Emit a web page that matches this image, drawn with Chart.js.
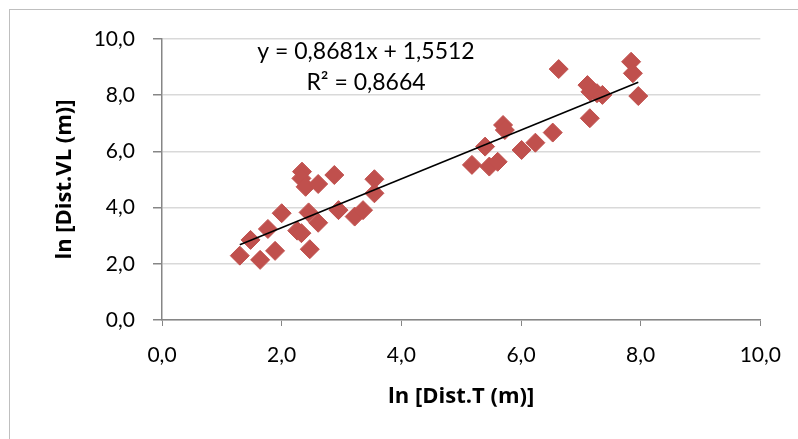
<!DOCTYPE html>
<html>
<head>
<meta charset="utf-8">
<script src="https://cdn.jsdelivr.net/npm/chart.js@4/dist/chart.umd.min.js"></script>
<style>
  html, body { margin: 0; padding: 0; background: #fff; }
  #wrap { width: 798px; height: 439px; position: relative; }
</style>
</head>
<body>
<div id="wrap"><canvas id="myChart" width="798" height="439"></canvas></div>
<script>
// values: ln distance T (x) vs ln distance VL (y)
const distT = [
  1.30, 1.48, 1.64, 1.77, 1.89, 2.00, 2.26, 2.33, 2.34, 2.33, 2.40,
  2.45, 2.47, 2.61, 2.61, 2.88, 2.95, 3.22, 3.36, 3.55, 3.55,
  5.18, 5.40, 5.47, 5.61, 5.70, 5.73, 6.01, 6.24, 6.53, 6.63,
  7.11, 7.16, 7.27, 7.36, 7.15, 7.84, 7.87, 7.96
];
const distVL = [
  2.29, 2.85, 2.14, 3.24, 2.46, 3.80, 3.18, 3.09, 5.28, 5.04, 4.74,
  3.83, 2.52, 3.46, 4.84, 5.16, 3.91, 3.68, 3.91, 5.01, 4.51,
  5.52, 6.17, 5.46, 5.63, 6.94, 6.76, 6.05, 6.31, 6.67, 8.93,
  8.36, 8.12, 8.07, 8.01, 7.18, 9.19, 8.78, 7.97
];

// linear trendline as printed on the chart
const slope = 0.8681;
const intercept = 1.5512;
const rSquared = "0,8664";
const trendX = [1.30, 7.96];

const tickValues = [0, 2, 4, 6, 8, 10];
const xTitle = "ln [Dist.T (m)]";
const yTitle = "ln [Dist.VL (m)]";

const points = distT.map((x, i) => ({ x: x, y: distVL[i] }));
const trendPoints = trendX.map((x) => ({ x: x, y: slope * x + intercept }));

const comma = (v) => v.toFixed(1).replace(".", ",");

// equation label + outer frame
const extras = {
  id: "extras",
  beforeDraw(chart) {
    const c = chart.ctx;
    c.save();
    c.strokeStyle = "#bfbfbf";
    c.lineWidth = 1;
    c.strokeRect(9.5, 9.5, 900, 600);
    c.restore();
  },
  afterDraw(chart) {
    const c = chart.ctx;
    c.save();
    c.fillStyle = "#000";
    c.font = "23px Lato";
    c.textAlign = "center";
    c.textBaseline = "middle";
    const eq = "y = " + slope.toFixed(4).replace(".", ",") + "x + " + intercept.toFixed(4).replace(".", ",");
    c.fillText(eq, 366, 52);
    c.fillText("R\u00B2 = " + rSquared, 366, 83);
    c.restore();
  },
};

const ctx = document.getElementById("myChart").getContext("2d");
const myChart = new Chart(ctx, {
  type: "scatter",
  data: {
    datasets: [
      {
        data: points,
        backgroundColor: "#C0504D",
        borderColor: "#C0504D",
        borderWidth: 1,
        pointStyle: "rectRot",
        pointRadius: 9.5,
        order: 2,
      },
      {
        type: "line",
        data: trendPoints,
        borderColor: "#000",
        borderWidth: 1.6,
        pointRadius: 0,
        fill: false,
        order: 1,
      },
    ],
  },
  options: {
    responsive: false,
    animation: false,
    layout: { padding: { left: 0, top: 39, right: 36, bottom: 0 } },
    plugins: { legend: { display: false }, tooltip: { enabled: false } },
    scales: {
      x: {
        type: "linear",
        min: 0,
        max: 10,
        afterBuildTicks: (s) => { s.ticks = tickValues.map((v) => ({ value: v })); },
        afterFit: (s) => { s.height = 119; },
        ticks: {
          callback: (v) => comma(v),
          color: "#000",
          font: { family: "Lato", size: 21 },
          padding: 17,
          maxRotation: 0,
        },
        grid: { drawOnChartArea: false, tickLength: 6, tickColor: "#868686" },
        border: { color: "#868686", width: 1.5 },
        title: {
          display: true,
          text: xTitle,
          color: "#000",
          font: { family: "Open Sans", size: 22, weight: "bold" },
          padding: { top: 0, bottom: 29 },
        },
      },
      y: {
        type: "linear",
        min: 0,
        max: 10,
        afterBuildTicks: (s) => { s.ticks = tickValues.map((v) => ({ value: v })); },
        afterFit: (s) => { s.width = 162; },
        ticks: {
          callback: (v) => comma(v),
          color: "#000",
          font: { family: "Lato", size: 21 },
          padding: 18,
        },
        grid: { color: "#d9d9d9", lineWidth: 1.5, tickLength: 9, tickColor: "#868686" },
        border: { color: "#868686", width: 1.5 },
        title: {
          display: true,
          text: yTitle,
          color: "#000",
          font: { family: "Open Sans", size: 22, weight: "bold" },
          padding: { top: 52, bottom: 0 },
        },
      },
    },
  },
  plugins: [extras],
});
</script>
</body>
</html>
